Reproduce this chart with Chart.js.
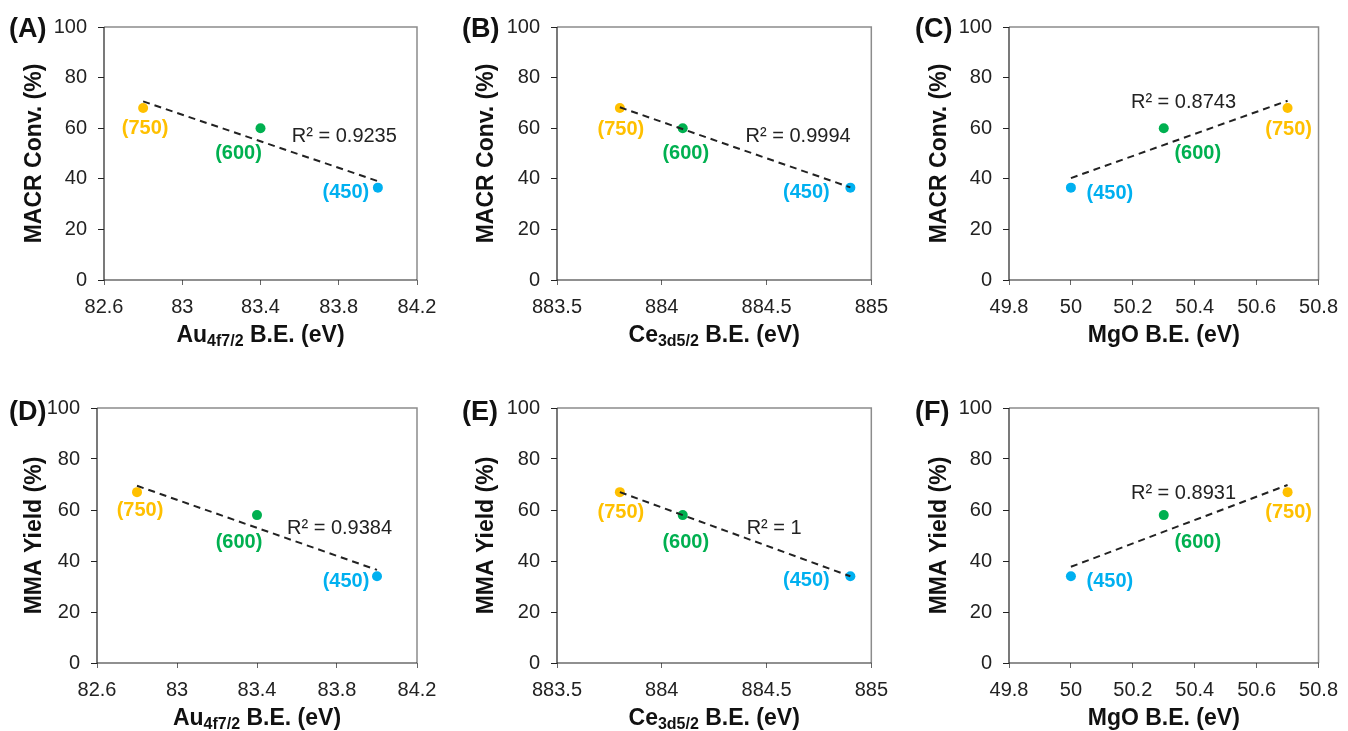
<!DOCTYPE html>
<html>
<head>
<meta charset="utf-8">
<script src="https://cdn.jsdelivr.net/npm/chart.js@4.4.1/dist/chart.umd.min.js"></script>
<style>
  body { margin: 0; background: #fff; }
  #wrap { position: relative; width: 1348px; height: 731px; overflow: hidden; }
  canvas { position: absolute; }
</style>
</head>
<body>
<div id="wrap"></div>
<script>
// 数据：煅烧温度 / 结合能 / 转化率与产率
const temps = ['(450)', '(600)', '(750)'];
const tempColors = ['#00B0F0', '#00B050', '#FFC000'];

const auBE = [84.0, 83.4, 82.8];
const ceBE = [884.9, 884.1, 883.8];
const mgoBE = [50.0, 50.3, 50.7];

const macrConv = [36.5, 60, 68];
const mmaYield = [34, 58, 67];

const r2Text = ['R² = 0.9235', 'R² = 0.9994', 'R² = 0.8743', 'R² = 0.9384', 'R² = 1', 'R² = 0.8931'];

const auTicks = [82.6, 83, 83.4, 83.8, 84.2];
const ceTicks = [883.5, 884, 884.5, 885];
const mgoTicks = [49.8, 50, 50.2, 50.4, 50.6, 50.8];
const yTicks = [0, 20, 40, 60, 80, 100];

const FONT = '"Liberation Sans", Arial, sans-serif';

// 各子图布局（绘图区绝对坐标）
const panels = [
  { letter: '(A)', cell: [0, 0, 448, 366], area: [104, 27, 417, 280], xs: auBE, ys: macrConv, ticks: auTicks,
    xTitle: [['Au', 0], ['4f7/2', 1], [' B.E. (eV)', 0]], yTitle: 'MACR Conv. (%)', yTitleDx: 69, letterX: 9,
    r2: 0, r2At: [83.56, 56.6], offs: [[-32, 5], [-22, 25], [2, 21]] },
  { letter: '(B)', cell: [450, 0, 448, 366], area: [557, 27, 873, 280], xs: ceBE, ys: macrConv, ticks: ceTicks,
    xTitle: [['Ce', 0], ['3d5/2', 1], [' B.E. (eV)', 0]], yTitle: 'MACR Conv. (%)', yTitleDx: 70, letterX: 462,
    r2: 1, r2At: [884.40, 56.6], offs: [[-44, 5], [3, 25], [1, 22]] },
  { letter: '(C)', cell: [900, 0, 448, 366], area: [1009, 27, 1322, 280], xs: mgoBE, ys: macrConv, ticks: mgoTicks,
    xTitle: [['MgO B.E. (eV)', 0]], yTitle: 'MACR Conv. (%)', yTitleDx: 69, letterX: 915,
    r2: 2, r2At: [50.194, 70.1], offs: [[39, 6], [34, 25], [1, 22]] },
  { letter: '(D)', cell: [0, 366, 448, 365], area: [97, 408, 417, 663], xs: auBE, ys: mmaYield, ticks: auTicks,
    xTitle: [['Au', 0], ['4f7/2', 1], [' B.E. (eV)', 0]], yTitle: 'MMA Yield (%)', yTitleDx: 62, letterX: 9,
    r2: 3, r2At: [83.55, 52.8], offs: [[-31, 5], [-18, 27], [3, 18]] },
  { letter: '(E)', cell: [450, 366, 448, 365], area: [557, 408, 873, 663], xs: ceBE, ys: mmaYield, ticks: ceTicks,
    xTitle: [['Ce', 0], ['3d5/2', 1], [' B.E. (eV)', 0]], yTitle: 'MMA Yield (%)', yTitleDx: 70, letterX: 462,
    r2: 4, r2At: [884.405, 52.8], offs: [[-44, 4], [3, 27], [1, 20]] },
  { letter: '(F)', cell: [900, 366, 448, 365], area: [1009, 408, 1322, 663], xs: mgoBE, ys: mmaYield, ticks: mgoTicks,
    xTitle: [['MgO B.E. (eV)', 0]], yTitle: 'MMA Yield (%)', yTitleDx: 69, letterX: 915,
    r2: 5, r2At: [50.194, 66.3], offs: [[39, 5], [34, 27], [1, 20]] }
];

const Y_AXIS_W = 50;
const X_AXIS_H = 40;

// 线性回归趋势线
function trend(xs, ys) {
  const n = xs.length;
  const mx = xs.reduce((s, v) => s + v, 0) / n;
  const my = ys.reduce((s, v) => s + v, 0) / n;
  let sxy = 0, sxx = 0;
  xs.forEach((x, i) => { sxy += (x - mx) * (ys[i] - my); sxx += (x - mx) * (x - mx); });
  const k = sxy / sxx, b = my - k * mx;
  const lo = Math.min(...xs), hi = Math.max(...xs);
  return [{ x: lo, y: k * lo + b }, { x: hi, y: k * hi + b }];
}

// 边框、标签、标题
const decor = {
  id: 'decor',
  afterDraw(chart, args, o) {
    const p = o.panel;
    const ctx = chart.ctx, a = chart.chartArea, sx = chart.scales.x, sy = chart.scales.y;
    const cx = p.cell[0];
    ctx.save();

    // 外框
    ctx.lineWidth = 1.5;
    ctx.strokeStyle = '#8c8c8c';
    ctx.beginPath();
    ctx.moveTo(a.left, a.top); ctx.lineTo(a.right, a.top); ctx.lineTo(a.right, a.bottom);
    ctx.stroke();
    ctx.lineWidth = 1.2;
    ctx.strokeStyle = '#222';
    ctx.beginPath();
    ctx.moveTo(a.left, a.top); ctx.lineTo(a.left, a.bottom); ctx.lineTo(a.right, a.bottom);
    ctx.stroke();

    // 数据标签
    const meta = chart.getDatasetMeta(1);
    ctx.font = 'bold 20px ' + FONT;
    ctx.textAlign = 'center';
    ctx.textBaseline = 'middle';
    meta.data.forEach((pt, i) => {
      ctx.fillStyle = tempColors[i];
      ctx.fillText(temps[i], pt.x + p.offs[i][0], pt.y + p.offs[i][1]);
    });

    // R²
    ctx.font = '20px ' + FONT;
    ctx.fillStyle = '#222';
    ctx.textAlign = 'left';
    ctx.fillText(r2Text[p.r2], sx.getPixelForValue(p.r2At[0]), sy.getPixelForValue(p.r2At[1]));

    // 子图字母
    ctx.font = 'bold 27px ' + FONT;
    ctx.fillStyle = '#111';
    ctx.fillText(p.letter, p.letterX - cx, (a.top + (p.cell[1] ? 5 : 3)));

    // y 轴标题
    ctx.save();
    ctx.translate(a.left - p.yTitleDx, (a.top + a.bottom) / 2);
    ctx.rotate(-Math.PI / 2);
    ctx.font = 'bold 23px ' + FONT;
    ctx.textAlign = 'center';
    ctx.fillText(p.yTitle, 0, 0);
    ctx.restore();

    // x 轴标题（含下标）
    const big = 'bold 23px ' + FONT, small = 'bold 16px ' + FONT;
    let w = 0;
    p.xTitle.forEach(([t, sub]) => { ctx.font = sub ? small : big; w += ctx.measureText(t).width; });
    let x = (a.left + a.right) / 2 - w / 2;
    const y = a.bottom + 56;
    ctx.textAlign = 'left';
    p.xTitle.forEach(([t, sub]) => {
      ctx.font = sub ? small : big;
      ctx.fillText(t, x, sub ? y + 6 : y);
      x += ctx.measureText(t).width;
    });
    ctx.restore();
  }
};

const wrap = document.getElementById('wrap');

panels.forEach(p => {
  const [cx, cy, cw, ch] = p.cell;
  const canvas = document.createElement('canvas');
  canvas.width = cw; canvas.height = ch;
  canvas.style.left = cx + 'px'; canvas.style.top = cy + 'px';
  wrap.appendChild(canvas);

  const pts = p.xs.map((x, i) => ({ x: x, y: p.ys[i] }));

  new Chart(canvas.getContext('2d'), {
    type: 'scatter',
    data: {
      datasets: [{
        type: 'line',
        data: trend(p.xs, p.ys),
        borderColor: '#222',
        borderWidth: 2,
        borderDash: [7, 5],
        pointRadius: 0,
        fill: false
      }, {
        data: pts,
        pointRadius: 5,
        pointBorderWidth: 0,
        pointBackgroundColor: tempColors,
        showLine: false
      }]
    },
    options: {
      responsive: false,
      devicePixelRatio: 1,
      animation: false,
      layout: {
        padding: {
          left: p.area[0] - cx - Y_AXIS_W,
          top: p.area[1] - cy,
          right: cx + cw - p.area[2],
          bottom: cy + ch - p.area[3] - X_AXIS_H
        }
      },
      plugins: { legend: { display: false }, tooltip: { enabled: false }, decor: { panel: p } },
      scales: {
        x: {
          type: 'linear',
          min: p.ticks[0], max: p.ticks[p.ticks.length - 1],
          afterBuildTicks: s => { s.ticks = p.ticks.map(v => ({ value: v })); },
          afterFit: s => { s.height = X_AXIS_H; },
          border: { display: false },
          grid: { drawOnChartArea: false, drawTicks: true, tickLength: 5, color: '#666' },
          ticks: { color: '#222', font: { family: FONT, size: 20 }, padding: 10, maxRotation: 0,
                   callback: v => String(v) }
        },
        y: {
          min: 0, max: 100,
          afterBuildTicks: s => { s.ticks = yTicks.map(v => ({ value: v })); },
          afterFit: s => { s.width = Y_AXIS_W; },
          border: { display: false },
          grid: { drawOnChartArea: false, drawTicks: true, tickLength: 6, color: '#222' },
          ticks: { color: '#222', font: { family: FONT, size: 20 }, padding: 11 }
        }
      }
    },
    plugins: [decor]
  });
});
</script>
</body>
</html>
